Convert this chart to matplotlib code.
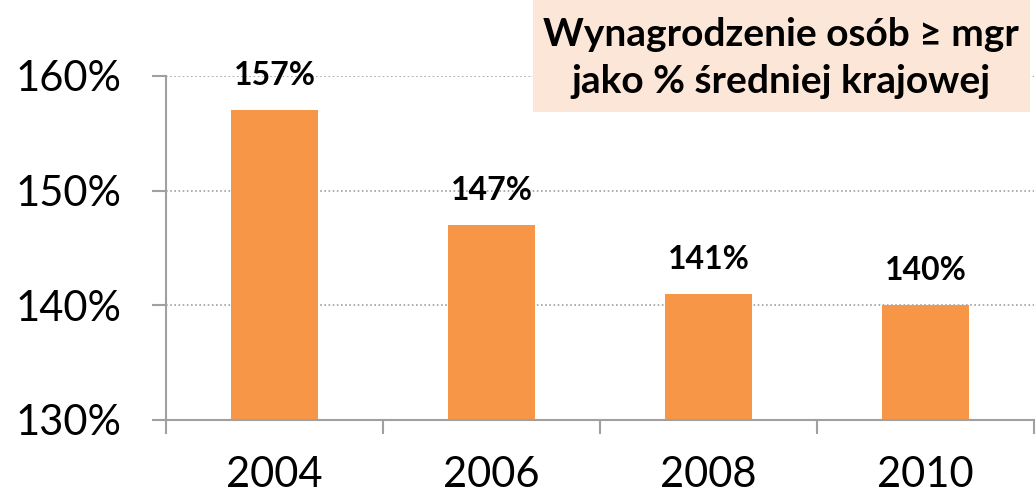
import matplotlib.pyplot as plt
from matplotlib.patches import Rectangle
from matplotlib.ticker import FixedLocator

plt.rcParams['font.family'] = ['Lato', 'DejaVu Sans']

years = ['2004', '2006', '2008', '2010']
values = [157, 147, 141, 140]
y_ticks = [130, 140, 150, 160]
title = 'Wynagrodzenie osób ≥ mgr\njako % średniej krajowej'

fig = plt.figure(figsize=(10.36, 4.99), dpi=100)
ax = fig.add_axes([166 / 1036, 79 / 499, 868 / 1036, 344 / 499])

x = range(len(years))
ax.bar(x, values, width=0.4, color='#F79646', zorder=3)
for xi, v in zip(x, values):
    ax.annotate(f'{v}%', (xi, v), xytext=(0, 25), textcoords='offset points',
                ha='center', va='center', fontsize=23, fontweight='bold', zorder=4)

ax.set_xlim(-0.5, 3.5)
ax.set_ylim(130, 160)
ax.set_yticks(y_ticks)
ax.set_yticklabels([f'{t}%' for t in y_ticks], fontsize=30)
ax.yaxis.grid(True, linestyle=(0, (1, 1.5)), color='#A0A0A0', linewidth=1.2, zorder=0)

ax.set_xticks(list(x))
ax.set_xticklabels(years, fontsize=30)
ax.tick_params(axis='x', length=0, pad=26)
ax.xaxis.set_minor_locator(FixedLocator([-0.5, 0.5, 1.5, 2.5, 3.5]))
ax.tick_params(axis='x', which='minor', length=10, width=1.5, color='#A0A0A0')
ax.tick_params(axis='y', length=10, width=1.5, color='#A0A0A0', pad=22)

for s in ['top', 'right']:
    ax.spines[s].set_visible(False)
for s in ['left', 'bottom']:
    ax.spines[s].set_color('#A0A0A0')
    ax.spines[s].set_linewidth(1.5)
ax.spines['bottom'].set_zorder(5)

fig.patches.append(Rectangle((533 / 1036, 1 - 112 / 499), 497 / 1036, 112 / 499,
                             transform=fig.transFigure, facecolor='#FCE6D7',
                             edgecolor='none', zorder=5))
fig.text(781 / 1036, 1 - 58 / 499, title, ha='center', va='center',
         fontsize=28, fontweight='bold', linespacing=1.4, zorder=6)

fig.savefig('out.png', dpi=100)
